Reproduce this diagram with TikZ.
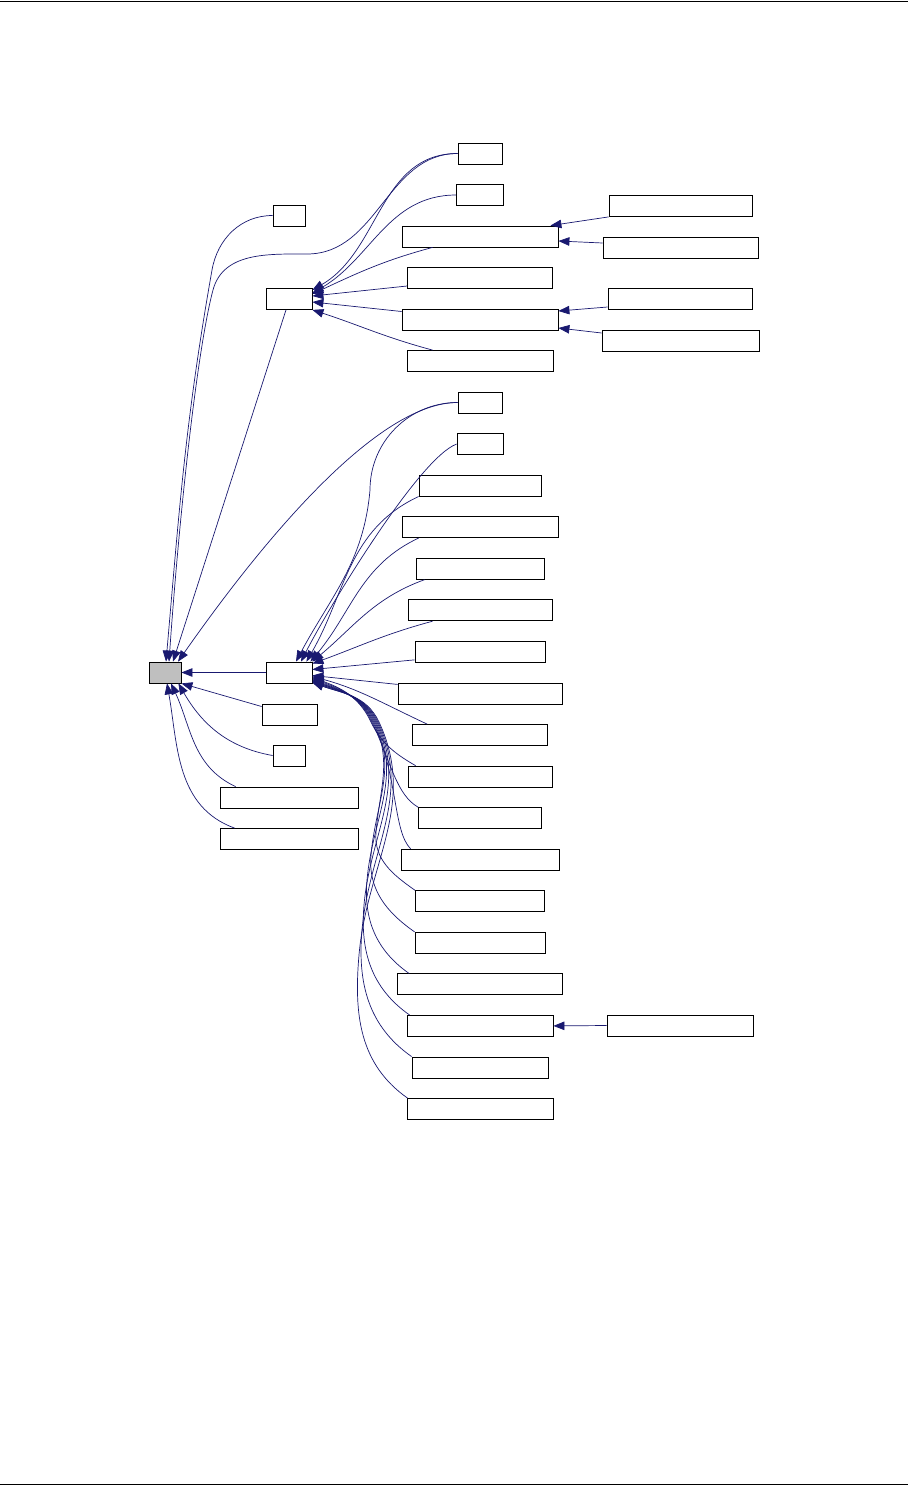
\documentclass[tikz,border=0pt]{standalone}
\usetikzlibrary{arrows.meta}
\definecolor{edgeblue}{HTML}{191970}
\definecolor{rootgray}{HTML}{BFBFBF}

\begin{document}
\begin{tikzpicture}[x=1pt, y=1pt, >={Triangle[length=11pt, width=8.5pt]},
  box/.style={draw, line width=0.8pt, minimum height=21pt, inner sep=0pt},
  edge/.style={->, edgeblue, line width=0.7pt}]

\useasboundingbox (0,0) rectangle (908,-1486);
\draw[line width=1pt] (0,-1) -- (908,-1);
\draw[line width=1pt] (0,-1484.5) -- (908,-1484.5);

\node[box, fill=rootgray, minimum width=32pt] (root) at (165,-672.5) {};
\node[box, minimum width=32pt] (a) at (289,-215.5) {};
\node[box, minimum width=46pt] (b) at (289,-299) {};
\node[box, minimum width=46pt] (c) at (289,-672.5) {};
\node[box, minimum width=55pt] (d) at (289.5,-714.5) {};
\node[box, minimum width=32pt] (e) at (289,-755.5) {};
\node[box, minimum width=138pt] (f) at (289,-797.5) {};
\node[box, minimum width=138pt] (g) at (289,-839) {};

\foreach \i/\w in {1/44, 2/47, 3/156, 4/145, 5/156, 6/146}
  \node[box, minimum width=\w pt] (b\i) at (480, {-153.5-(\i-1)*41.5}) {};
\foreach \i/\w in {1/44, 2/46, 3/122, 4/156, 5/128, 6/144, 7/130, 8/164, 9/135,
                   10/144, 11/123, 12/158, 13/129, 14/130, 15/165, 16/146, 17/136, 18/146}
  \node[box, minimum width=\w pt] (c\i) at (480, {-402.5-(\i-1)*41.56}) {};

\node[box, minimum width=143pt] (b3a) at (680.5,-206) {};
\node[box, minimum width=155pt] (b3b) at (680.5,-247.5) {};
\node[box, minimum width=144pt] (b5a) at (680,-299) {};
\node[box, minimum width=157pt] (b5b) at (680.5,-340.5) {};
\node[box, minimum width=146pt] (c16a) at (680,-1025.5) {};

% into root
\draw[edge] (c.west) -- (root.east);
\draw[edge] ([yshift=8]d.west) -- (root.south east);
\draw[edge] (e.west) to[out=170, in=-60] ([xshift=-3]root.south east);
\draw[edge] ([xshift=16]f.north west) to[out=155, in=-65] ([xshift=6]root.south);
\draw[edge] ([xshift=15]g.north west) to[out=160, in=-80] ([xshift=2]root.south);
\draw[edge] (a.west) to[out=180, in=80] (212,-270) to[out=-100, in=85] ([xshift=1]root.north);
\draw[edge] (b1.west) to[out=180, in=0] (307,-254) to[out=180, in=75] (213,-290)
  to[out=-105, in=86, out distance=60pt, in distance=150pt] ([xshift=4]root.north);
\draw[edge] ([xshift=-3]b.south) -- ([xshift=8]root.north);
\draw[edge] (c1.west) to[out=180, in=55, out distance=80pt, in distance=150pt] ([xshift=13]root.north);

% into b
\draw[edge] (b1.west) to[out=180, in=30] ([yshift=9]b.east);
\draw[edge] (b2.west) to[out=180, in=30] ([yshift=6]b.east);
\draw[edge] ([xshift=31]b3.south west) to[out=195, in=25] ([yshift=5]b.east);
\draw[edge] ([yshift=-8]b4.west) -- ([yshift=3]b.east);
\draw[edge] ([yshift=8]b5.west) -- ([yshift=-3]b.east);
\draw[edge] ([xshift=26]b6.north west) to[out=165, in=-18] (b.south east);
\draw[edge] (b3a.south west) -- ([xshift=-8]b3.north east);
\draw[edge] ([yshift=4.5]b3b.west) -- ([yshift=-4.5]b3.east);
\draw[edge] ([yshift=-8]b5a.west) -- ([yshift=8.5]b5.east);
\draw[edge] ([yshift=7.5]b5b.west) -- ([yshift=-8.5]b5.east);

% into c
\draw[edge] (c1.west) to[out=180, in=90] (370,-490) to[out=-95, in=62] ([xshift=7]c.north);
\draw[edge] (c2.west) to[out=200, in=63, out distance=40pt, in distance=60pt] ([xshift=12]c.north);
\draw[edge] (c3.south west) to[out=205, in=60] ([xshift=-6]c.north east);
\draw[edge] ([xshift=17]c4.south west) to[out=205, in=50] ([xshift=-2]c.north east);
\draw[edge] ([xshift=9]c5.south west) to[out=200, in=40] (c.north east);
\draw[edge] ([xshift=25]c6.south west) to[out=195, in=20] ([yshift=-2]c.north east);
\draw[edge] ([yshift=-8]c7.west) -- ([yshift=3]c.east);
\draw[edge] ([yshift=9]c8.west) -- ([yshift=-3]c.east);
\draw[edge] ([xshift=15]c9.north west) to[out=155, in=-15] ([yshift=-4]c.east);
\draw[edge] ([xshift=8]c10.north west) to[out=150, in=-65, out distance=20pt, in distance=25pt] (371,-722)
  to[out=115, in=-20] ([yshift=-5]c.east);
\draw[edge] (c11.north west) to[out=150, in=-65, out distance=25pt, in distance=45pt] (372,-722)
  to[out=115, in=-20] ([yshift=-6]c.east);
\draw[edge] ([xshift=10]c12.north west) to[out=135, in=-65, out distance=25pt, in distance=60pt] (373,-722)
  to[out=115, in=-20] ([yshift=-7]c.east);
\draw[edge] (c13.north west) to[out=145, in=-95] (376,-832) to[out=85, in=-65] (374,-722)
  to[out=115, in=-20] ([yshift=-8]c.east);
\draw[edge] (c14.north west) to[out=145, in=-95] (371,-855) to[out=85, in=-65] (375,-722)
  to[out=115, in=-20] ([yshift=-8]c.east);
\draw[edge] ([xshift=12]c15.north west) to[out=145, in=-95] (367,-880) to[out=85, in=-65] (376,-722)
  to[out=115, in=-20] ([yshift=-9]c.east);
\draw[edge] ([xshift=3]c16.north west) to[out=145, in=-95] (364,-905) to[out=85, in=-65] (377,-722)
  to[out=115, in=-20] ([yshift=-9]c.east);
\draw[edge] (c17.north west) to[out=145, in=-95] (362,-930) to[out=85, in=-65] (378,-722)
  to[out=115, in=-20] ([yshift=-10]c.east);
\draw[edge] ([xshift=1]c18.north west) to[out=145, in=-95] (359,-955) to[out=85, in=-65] (379,-722)
  to[out=115, in=-20] ([yshift=-10]c.east);
\draw[edge] (c16a.west) -- (c16.east);

\end{tikzpicture}
\end{document}
